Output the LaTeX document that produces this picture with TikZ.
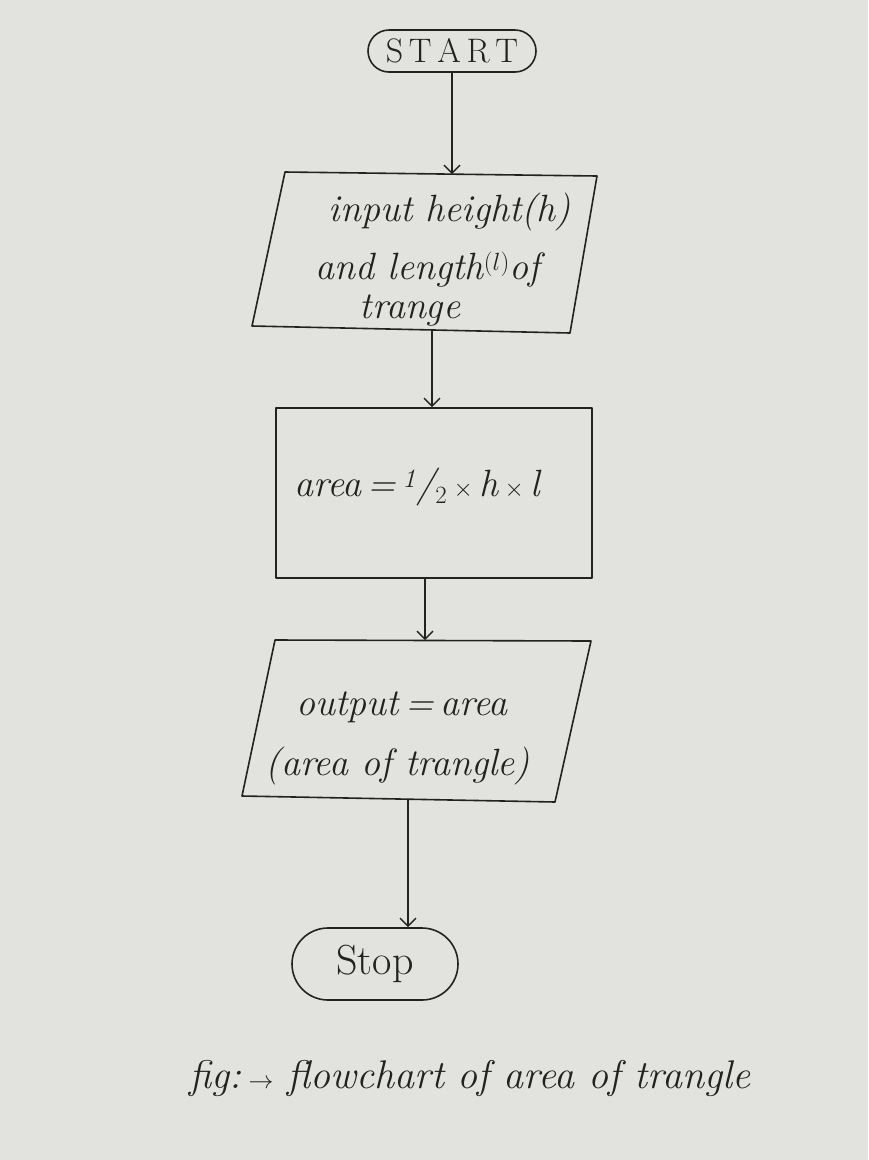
\documentclass[tikz,border=0pt]{standalone}
\usetikzlibrary{arrows.meta}
\definecolor{paper}{RGB}{226,226,222}
\definecolor{inkc}{RGB}{34,34,34}
\begin{document}
\begin{tikzpicture}[x=1pt,y=-1pt,
  shp/.style={draw=inkc, line width=1.6pt, line join=round},
  arr/.style={draw=inkc, line width=1.4pt, -{Straight Barb[length=8pt,width=16pt,line width=1.4pt]}},
  txt/.style={text=inkc, inner sep=1pt, font=\fontsize{38}{44}\selectfont\itshape},
  term/.style={shp, rounded corners=21pt, inner sep=0pt, text=inkc, font=\fontsize{34}{40}\selectfont}]
\fill[paper] (0,0) rectangle (868,1160);
\useasboundingbox (0,0) rectangle (868,1160);

% start
\node[term, minimum width=168pt, minimum height=42pt] (start) at (452,51) {S\,T\,A\,R\,T};

% input parallelogram
\draw[shp] (285,172) coordinate (p1tl) -- (597,176) coordinate (p1tr) -- (570,333) coordinate (p1br) -- (252,326) coordinate (p1bl) -- cycle;
\coordinate (p1in) at (452,174);
\coordinate (p1out) at (432,330);
\node[txt] (in1a) at (450,212) {input height(h)};
\node[txt] (in1b) at (428,270) {and length$^{(l)}$of};
\node[txt] (in1c) at (410,310) {trange};

% process
\node[shp, minimum width=316pt, minimum height=170pt] (proc) at (434,493) {};
\node[txt] (proctext) at (417,487) {area\,=\,\textsuperscript{1}/$_{2}$\,$\times$\,h\,$\times$\,l};

% output parallelogram
\draw[shp] (275,640) coordinate (p2tl) -- (591,641) coordinate (p2tr) -- (555,802) coordinate (p2br) -- (242,796) coordinate (p2bl) -- cycle;
\coordinate (p2in) at (425,640);
\coordinate (p2out) at (408,800);
\node[txt] (out1a) at (402,707) {output\,=\,area};
\node[txt] (out1b) at (398,766) {(area of trangle)};

% stop
\node[term, rounded corners=36pt, minimum width=166pt, minimum height=72pt, font=\fontsize{42}{48}\selectfont] (stop) at (375,964) {Stop};

% connectors
\draw[arr] (start.south) -- (p1in);
\draw[arr] (p1out) -- ([xshift=-2pt]proc.north);
\draw[arr] ([xshift=-9pt]proc.south) -- (p2in);
\draw[arr] (p2out) -- ([xshift=33pt]stop.north);

% caption
\node[txt, font=\fontsize{40}{46}\selectfont\itshape] (cap) at (470,1078) {fig:\,$\rightarrow$ flowchart of area of trangle};
\end{tikzpicture}
\end{document}
